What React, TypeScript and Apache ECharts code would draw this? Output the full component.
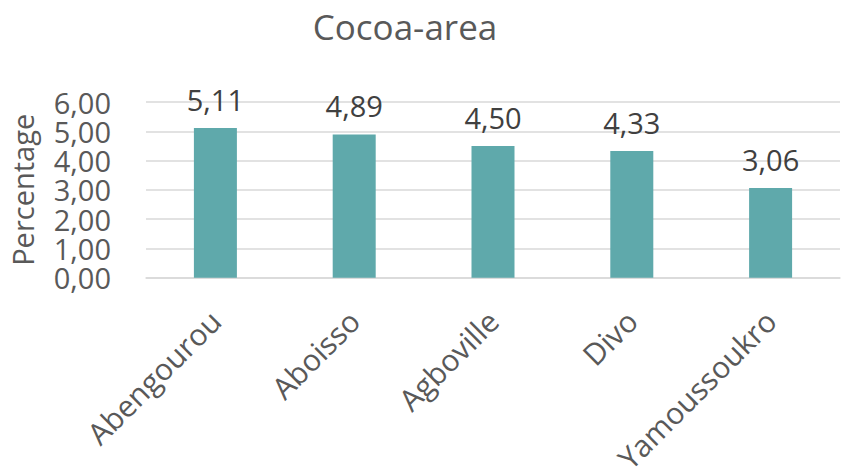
import React, { useEffect, useRef } from "react";
import * as echarts from "echarts";

const categories = ["Abengourou", "Aboisso", "Agboville", "Divo", "Yamoussoukro"];
const values = [5.11, 4.89, 4.5, 4.33, 3.06];
const titleText = "Cocoa-area";
const yAxisName = "Percentage";

const fmt = (v: number) => v.toFixed(2).replace(".", ",");
const FONT = "'Open Sans', 'Noto Sans', sans-serif";

export default function App() {
  const ref = useRef<HTMLDivElement>(null);
  useEffect(() => {
    if (!ref.current) return;
    const chart = echarts.init(ref.current, undefined, { renderer: "svg" });
    chart.setOption({
      animation: false,
      backgroundColor: "#ffffff",
      title: {
        text: titleText,
        left: 400,
        top: 4,
        textAlign: "center",
        textStyle: { fontFamily: FONT, fontSize: 35, fontWeight: "normal", color: "#595959" },
      },
      grid: { left: 137, right: 4, top: 102, bottom: 196.5, containLabel: false },
      xAxis: {
        type: "category",
        data: categories,
        axisLine: { show: true, lineStyle: { color: "#d9d9d9", width: 1.5 } },
        axisTick: { show: false },
        axisLabel: {
          rotate: 45,
          interval: 0,
          margin: 38,
          padding: [22, 0, 0, 0],
          fontFamily: FONT,
          fontSize: 30,
          color: "#595959",
        },
      },
      yAxis: {
        type: "value",
        min: 0,
        max: 6,
        interval: 1,
        name: yAxisName,
        nameLocation: "middle",
        nameGap: 109,
        nameTextStyle: { fontFamily: FONT, fontSize: 29, color: "#595959" },
        axisLine: { show: false },
        axisTick: { show: false },
        axisLabel: {
          margin: 35,
          fontFamily: FONT,
          fontSize: 29,
          lineHeight: 27,
          color: "#595959",
          formatter: (v: number) => fmt(v),
        },
        splitLine: { lineStyle: { color: "#d9d9d9", width: 1.5 } },
      },
      series: [
        {
          type: "bar",
          data: values,
          barWidth: 43,
          itemStyle: { color: "#5fa9ab" },
          label: {
            show: true,
            position: "top",
            distance: 14,
            fontFamily: FONT,
            fontSize: 29,
            color: "#404040",
            formatter: (p: any) => fmt(p.value),
          },
        },
      ],
    });
    return () => chart.dispose();
  }, []);
  return (
    <div
      ref={ref}
      style={{ position: "fixed", left: 0, top: 0, width: 844, height: 476 }}
    />
  );
}
